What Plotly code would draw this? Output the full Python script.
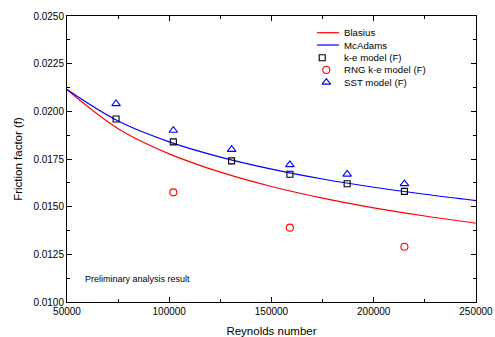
import plotly.graph_objects as go

# ---- data ----
re_curve = [50000, 75000, 100000, 125000, 150000, 175000, 200000, 225000, 250000]
f_blasius = [0.02113, 0.01909, 0.01777, 0.01681, 0.01606, 0.01545, 0.01494, 0.01451, 0.01413]
f_mcadams = [0.02114, 0.01949, 0.01840, 0.01760, 0.01697, 0.01645, 0.01602, 0.01565, 0.01532]

re_ke = [74000, 102000, 130500, 159000, 187000, 215000]
f_ke = [0.0196, 0.0184, 0.0174, 0.0167, 0.0162, 0.0158]

re_rng = [102000, 159000, 215000]
f_rng = [0.01575, 0.0139, 0.0129]

re_sst = [74000, 102000, 130500, 159000, 187000, 215000]
f_sst = [0.0204, 0.0190, 0.0180, 0.0172, 0.0167, 0.0162]

legend_names = ["Blasius", "McAdams", "k-e model (F)", "RNG k-e model (F)", "SST model (F)"]
x_ticks = [50000, 100000, 150000, 200000, 250000]
y_ticks = [0.0100, 0.0125, 0.0150, 0.0175, 0.0200, 0.0225, 0.0250]

FONT = "Liberation Sans, Arial, sans-serif"
RED = "#ff0000"
BLUE = "#0000ff"

fig = go.Figure()
fig.add_trace(go.Scatter(x=re_curve, y=f_blasius, mode="lines", line=dict(color=RED, width=1.2, shape="spline"),
                         name=legend_names[0], showlegend=False))
fig.add_trace(go.Scatter(x=re_curve, y=f_mcadams, mode="lines", line=dict(color=BLUE, width=1.2, shape="spline"),
                         name=legend_names[1], showlegend=False))
fig.add_trace(go.Scatter(x=re_ke, y=f_ke, mode="markers",
                         marker=dict(symbol="square-open", size=6, color="black", line=dict(width=1.1)),
                         name=legend_names[2], showlegend=False))
fig.add_trace(go.Scatter(x=re_rng, y=f_rng, mode="markers",
                         marker=dict(symbol="circle-open", size=7, color=RED, line=dict(width=1.1)),
                         name=legend_names[3], showlegend=False))
fig.add_trace(go.Scatter(x=re_sst, y=f_sst, mode="markers",
                         marker=dict(symbol="triangle-up-open", size=7.5, color=BLUE, line=dict(width=1.1)),
                         name=legend_names[4], showlegend=False))

# ---- custom legend (overlay axes 0..1) ----
leg_y = [0.9416, 0.8986, 0.8542, 0.8112, 0.7682]
lx0, lx1, tx = 0.6112, 0.665, 0.6724
fig.add_trace(go.Scatter(x=[lx0, lx1], y=[leg_y[0]] * 2, xaxis="x2", yaxis="y2", mode="lines",
                         line=dict(color=RED, width=1.2), showlegend=False, hoverinfo="skip"))
fig.add_trace(go.Scatter(x=[lx0, lx1], y=[leg_y[1]] * 2, xaxis="x2", yaxis="y2", mode="lines",
                         line=dict(color=BLUE, width=1.2), showlegend=False, hoverinfo="skip"))
fig.add_trace(go.Scatter(x=[0.624], y=[leg_y[2]], xaxis="x2", yaxis="y2", mode="markers",
                         marker=dict(symbol="square-open", size=6, color="black", line=dict(width=1.1)),
                         showlegend=False, hoverinfo="skip"))
fig.add_trace(go.Scatter(x=[0.634], y=[leg_y[3]], xaxis="x2", yaxis="y2", mode="markers",
                         marker=dict(symbol="circle-open", size=7, color=RED, line=dict(width=1.1)),
                         showlegend=False, hoverinfo="skip"))
fig.add_trace(go.Scatter(x=[0.634], y=[leg_y[4]], xaxis="x2", yaxis="y2", mode="markers",
                         marker=dict(symbol="triangle-up-open", size=7.5, color=BLUE, line=dict(width=1.1)),
                         showlegend=False, hoverinfo="skip"))

annotations = []
for name, yy in zip(legend_names, leg_y):
    annotations.append(dict(x=tx, y=yy, xref="paper", yref="paper", text=name, showarrow=False,
                            xanchor="left", yanchor="middle", font=dict(family=FONT, size=9.7, color="black")))
annotations.append(dict(x=0.039, y=0.080, xref="paper", yref="paper", text="Preliminary analysis result",
                        showarrow=False, xanchor="left", yanchor="middle",
                        font=dict(family=FONT, size=9, color="black")))

axis_common = dict(showline=True, linecolor="black", linewidth=1, mirror="ticks", ticks="inside",
                   ticklen=5, tickwidth=1, tickcolor="black", showgrid=False, zeroline=False,
                   automargin=False, tickfont=dict(family=FONT, size=10, color="black"))

fig.update_layout(
    width=495, height=337,
    margin=dict(l=67, r=19, t=16, b=35),
    paper_bgcolor="white", plot_bgcolor="white",
    showlegend=False,
    annotations=annotations,
    xaxis=dict(range=[50000, 250000], tickvals=x_ticks, ticktext=[str(v) for v in x_ticks],
               minor=dict(dtick=25000, tick0=50000, ticks="inside", ticklen=3, tickcolor="black"),
               title=dict(text="Reynolds number", font=dict(family=FONT, size=11.5, color="black"), standoff=15),
               **axis_common),
    yaxis=dict(range=[0.0100, 0.0250], tickvals=y_ticks, ticktext=[f"{v:.4f}" for v in y_ticks],
               minor=dict(dtick=0.00125, tick0=0.01, ticks="inside", ticklen=3, tickcolor="black"),
               title=dict(text="Friction factor (f)", font=dict(family=FONT, size=11.5, color="black"), standoff=8),
               **axis_common),
    xaxis2=dict(overlaying="x", range=[0, 1], visible=False, fixedrange=True),
    yaxis2=dict(overlaying="y", range=[0, 1], visible=False, fixedrange=True),
)

fig.write_html("out.html")
